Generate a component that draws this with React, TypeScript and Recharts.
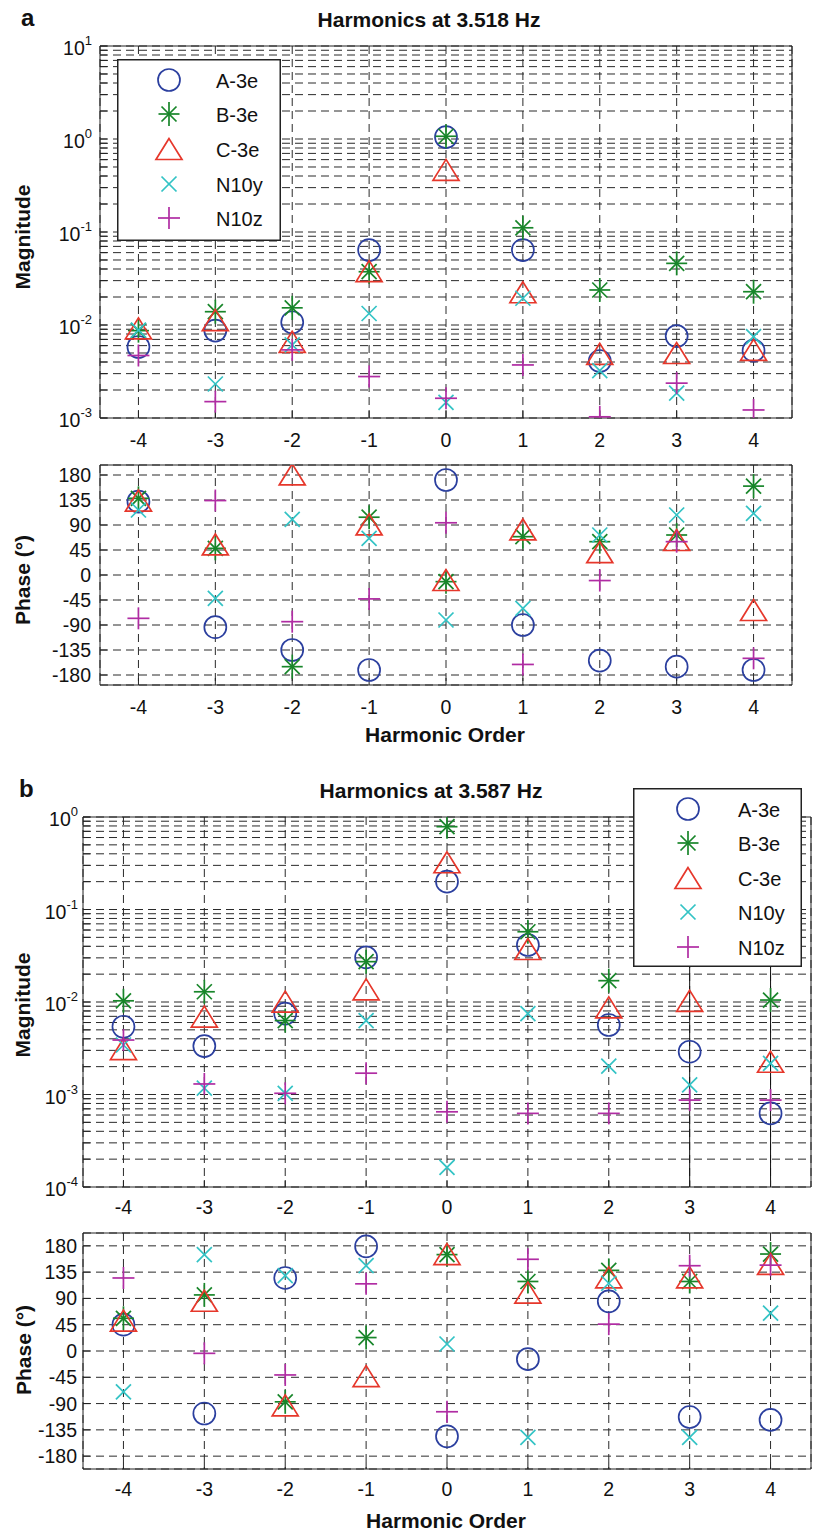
import React from 'react';
import {
  ScatterChart,
  Scatter,
  XAxis,
  YAxis,
  CartesianGrid,
  ReferenceArea,
  ReferenceLine,
  Legend,
} from 'recharts';

const FONT = '"Liberation Sans", Arial, Helvetica, sans-serif';

// ---------- categories / ticks ----------
const harmonicOrders = [-4, -3, -2, -1, 0, 1, 2, 3, 4];
const seriesNames = ['A-3e', 'B-3e', 'C-3e', 'N10y', 'N10z'];
const phaseTicks = [-180, -135, -90, -45, 0, 45, 90, 135, 180];
const magDecadesA = [-3, -2, -1, 0, 1];
const magDecadesB = [-4, -3, -2, -1, 0];

// ---------- panel a: Harmonics at 3.518 Hz ----------
const magA_A3e = [0.0058, 0.0087, 0.0107, 0.064, 1.05, 0.064, 0.0041, 0.0076, 0.0053];
const magA_B3e = [0.0087, 0.0139, 0.0153, 0.0374, 1.07, 0.111, 0.0238, 0.046, 0.0228];
const magA_C3e = [0.0092, 0.0113, 0.0066, 0.038, 0.466, 0.0225, 0.0049, 0.005, 0.0054];
const magA_N10y = [0.0088, 0.00232, 0.0061, 0.0133, 0.00147, 0.0194, 0.00323, 0.00185, 0.0075];
const magA_N10z = [0.0047, 0.0015, 0.0054, 0.00279, 0.00163, 0.00372, 0.00103, 0.00237, 0.00122];

const phA_A3e = [132, -94, -135, -171, 171, -90, -154, -165, -171];
const phA_B3e = [138, 48, -165, 104, -12, 69, 60, 72, 160];
const phA_C3e = [134, 55, 181, 91, -9, 82, 41, 63, -63];
const phA_N10y = [117, -42, 100, 66, -81, -60, 72, 108, 111];
const phA_N10z = [-78, 134, -84, -43, 94, -161, -10, 60, -150];

// ---------- panel b: Harmonics at 3.587 Hz ----------
const magB_A3e = [0.0054, 0.00334, 0.0075, 0.0304, 0.2, 0.0413, 0.00564, 0.0029, 0.000625];
const magB_B3e: (number | null)[] = [0.0103, 0.0129, 0.0063, 0.0273, 0.786, 0.0575, 0.017, null, 0.0105];
const magB_C3e = [0.0031, 0.00694, 0.0101, 0.0137, 0.324, 0.0374, 0.00875, 0.0103, 0.00226];
const magB_N10y = [0.00343, 0.00117, 0.00103, 0.0063, 0.000163, 0.0075, 0.00203, 0.00127, 0.00217];
const magB_N10z = [0.00388, 0.0013, 0.00103, 0.0017, 0.00065, 0.000625, 0.000625, 0.00087, 0.00087];

const phB_A3e = [45, -107, 125, 179, -146, -14, 85, -113, -118];
const phB_B3e = [56, 96, -87, 23, 165, 119, 138, 119, 166];
const phB_C3e = [52, 86, -93, -43, 166, 100, 126, 126, 149];
const phB_N10y = [-70, 165, 129, 146, 12, -148, 116, -148, 65];
const phB_N10z = [125, -4, -41, 115, -104, 157, 46, 146, 147];

// ---------- styles ----------
type Kind = 'circle' | 'star' | 'triangle' | 'x' | 'plus';
const seriesStyle: { kind: Kind; color: string }[] = [
  { kind: 'circle', color: '#2b3f9f' },
  { kind: 'star', color: '#18862a' },
  { kind: 'triangle', color: '#e6372b' },
  { kind: 'x', color: '#33c3c5' },
  { kind: 'plus', color: '#b02ca3' },
];

function Glyph({ kind, cx, cy, color }: { kind: Kind; cx: number; cy: number; color: string }) {
  const sw = 1.7;
  if (cx == null || cy == null || isNaN(cx) || isNaN(cy)) return <g />;
  switch (kind) {
    case 'circle':
      return <circle cx={cx} cy={cy} r={11} fill="none" stroke={color} strokeWidth={sw} />;
    case 'star': {
      const h = 10.5;
      const v = 12;
      const d = 7.5;
      return (
        <g stroke={color} strokeWidth={sw} fill="none">
          <line x1={cx - h} y1={cy} x2={cx + h} y2={cy} />
          <line x1={cx} y1={cy - v} x2={cx} y2={cy + v} />
          <line x1={cx - d} y1={cy - d} x2={cx + d} y2={cy + d} />
          <line x1={cx - d} y1={cy + d} x2={cx + d} y2={cy - d} />
        </g>
      );
    }
    case 'triangle':
      return (
        <polygon
          points={`${cx},${cy - 10.5} ${cx - 13},${cy + 10.5} ${cx + 13},${cy + 10.5}`}
          fill="none"
          stroke={color}
          strokeWidth={sw}
          strokeLinejoin="miter"
        />
      );
    case 'x': {
      const a = 7.5;
      return (
        <g stroke={color} strokeWidth={sw}>
          <line x1={cx - a} y1={cy - a} x2={cx + a} y2={cy + a} />
          <line x1={cx - a} y1={cy + a} x2={cx + a} y2={cy - a} />
        </g>
      );
    }
    case 'plus':
    default: {
      const a = 11;
      return (
        <g stroke={color} strokeWidth={sw}>
          <line x1={cx - a} y1={cy} x2={cx + a} y2={cy} />
          <line x1={cx} y1={cy - a} x2={cx} y2={cy + a} />
        </g>
      );
    }
  }
}

const toPoints = (vals: (number | null)[]) =>
  harmonicOrders
    .map((x, i) => ({ x, y: vals[i] }))
    .filter((p) => p.y !== null && p.y !== undefined);

function buildLogTicks(decades: number[]) {
  const out: number[] = [];
  for (let i = 0; i < decades.length - 1; i++) {
    for (let m = 1; m <= 9; m++) out.push(Number((m * Math.pow(10, decades[i])).toPrecision(3)));
  }
  out.push(Math.pow(10, decades[decades.length - 1]));
  return out;
}

interface LegendCfg {
  left: number;
  top: number;
  width: number;
  height: number;
  markerX: number;
  textX: number;
  rows: number[];
}

interface PanelProps {
  top: number;
  height: number;
  plotTop: number;
  right: number;
  yAxisWidth: number;
  xAxisHeight: number;
  log: boolean;
  domain: [number, number];
  ticks: number[];
  data: (number | null)[][];
  labelGap: number;
  xLabelOffset: number;
  legend?: LegendCfg;
  solidX?: number[];
}

function Panel(p: PanelProps) {
  const yTickRender = (props: any) => {
    const { x, y, payload } = props;
    const v = payload.value;
    if (p.log) {
      const lg = Math.log10(v);
      const e = Math.round(lg);
      if (Math.abs(lg - e) > 1e-6) return <g />;
      return (
        <text
          x={x - p.labelGap}
          y={y + 2}
          textAnchor="end"
          dominantBaseline="central"
          fontFamily={FONT}
          fontSize={19.5}
          fill="#111"
        >
          <tspan>10</tspan>
          <tspan dy={-8} fontSize={13}>
            {e}
          </tspan>
        </text>
      );
    }
    return (
      <text
        x={x - p.labelGap}
        y={y}
        textAnchor="end"
        dominantBaseline="central"
        fontFamily={FONT}
        fontSize={19.5}
        fill="#111"
      >
        {v}
      </text>
    );
  };

  const xTickRender = (props: any) => (
    <text
      x={props.x}
      y={props.y + p.xLabelOffset}
      textAnchor="middle"
      dominantBaseline="central"
      fontFamily={FONT}
      fontSize={19.5}
      fill="#111"
    >
      {props.payload.value}
    </text>
  );

  const L = p.legend;

  return (
    <div style={{ position: 'absolute', left: 0, top: p.top, width: 814, height: p.height }}>
      <ScatterChart
        width={814}
        height={p.height}
        margin={{ top: p.plotTop, right: p.right, bottom: 0, left: 0 }}
      >
        <CartesianGrid stroke="#2a2a2a" strokeDasharray="8 5" strokeWidth={1} />
        <XAxis
          type="number"
          dataKey="x"
          domain={[-4.5, 4.5]}
          ticks={harmonicOrders}
          interval={0}
          height={p.xAxisHeight}
          tickSize={-7}
          tickMargin={7}
          axisLine={false}
          tickLine={{ stroke: '#222' }}
          tick={xTickRender}
          allowDataOverflow
        />
        <XAxis
          xAxisId="top"
          orientation="top"
          mirror
          type="number"
          domain={[-4.5, 4.5]}
          ticks={harmonicOrders}
          interval={0}
          tickSize={7}
          axisLine={false}
          tickLine={{ stroke: '#222' }}
          tick={false}
          allowDataOverflow
        />
        <YAxis
          type="number"
          dataKey="y"
          scale={p.log ? 'log' : 'linear'}
          domain={p.domain}
          ticks={p.ticks}
          interval={0}
          width={p.yAxisWidth}
          tickSize={-7}
          tickMargin={7}
          axisLine={false}
          tickLine={{ stroke: '#222' }}
          tick={yTickRender}
          allowDataOverflow
        />
        <YAxis
          yAxisId="right"
          orientation="right"
          mirror
          type="number"
          scale={p.log ? 'log' : 'linear'}
          domain={p.domain}
          ticks={p.ticks}
          interval={0}
          tickSize={7}
          axisLine={false}
          tickLine={{ stroke: '#222' }}
          tick={false}
          allowDataOverflow
        />
        <ReferenceArea
          x1={-4.5}
          x2={4.5}
          y1={p.domain[0]}
          y2={p.domain[1]}
          fill="none"
          fillOpacity={0}
          stroke="#222"
          strokeWidth={1}
          ifOverflow="visible"
        />
        {(p.solidX || []).map((sx) => (
          <ReferenceLine key={'s' + sx} x={sx} stroke="#111" strokeWidth={1} />
        ))}
        {p.data.map((vals, i) => (
          <Scatter
            key={seriesNames[i]}
            name={seriesNames[i]}
            data={toPoints(vals)}
            isAnimationActive={false}
            shape={(sp: any) => (
              <Glyph kind={seriesStyle[i].kind} cx={sp.cx} cy={sp.cy} color={seriesStyle[i].color} />
            )}
          />
        ))}
        {L && (
          <Legend
            layout="vertical"
            align="center"
            verticalAlign="middle"
            wrapperStyle={{ left: L.left, top: L.top, width: L.width, height: L.height, lineHeight: 0 }}
            content={() => (
              <svg width={L.width} height={L.height} style={{ display: 'block' }}>
                <rect
                  x={0.75}
                  y={0.75}
                  width={L.width - 1.5}
                  height={L.height - 1.5}
                  fill="#fff"
                  stroke="#222"
                  strokeWidth={1.5}
                />
                {seriesStyle.map((s, i) => (
                  <g key={seriesNames[i]}>
                    <Glyph kind={s.kind} cx={L.markerX} cy={L.rows[i]} color={s.color} />
                    <text
                      x={L.textX}
                      y={L.rows[i] + 1}
                      dominantBaseline="central"
                      fontFamily={FONT}
                      fontSize={20}
                      fill="#111"
                    >
                      {seriesNames[i]}
                    </text>
                  </g>
                ))}
              </svg>
            )}
          />
        )}
      </ScatterChart>
    </div>
  );
}

export default function App() {
  const magTicksA = buildLogTicks(magDecadesA);
  const magTicksB = buildLogTicks(magDecadesB);
  const bold = { fontFamily: FONT, fontWeight: 'bold' as const, fill: '#111' };
  return (
    <div style={{ position: 'absolute', left: 0, top: 0, width: 814, height: 1532, background: '#fff' }}>
      <Panel
        top={0}
        height={455}
        plotTop={46}
        right={22}
        yAxisWidth={100}
        xAxisHeight={37}
        log
        domain={[0.001, 10]}
        ticks={magTicksA}
        data={[magA_A3e, magA_B3e, magA_C3e, magA_N10y, magA_N10z]}
        labelGap={8}
        xLabelOffset={22}
        legend={{ left: 117, top: 59, width: 164, height: 182, markerX: 52, textX: 99, rows: [21, 55, 90, 125, 159] }}
      />
      <Panel
        top={455}
        height={265}
        plotTop={10}
        right={22}
        yAxisWidth={100}
        xAxisHeight={35}
        log={false}
        domain={[-198, 198]}
        ticks={phaseTicks}
        data={[phA_A3e, phA_B3e, phA_C3e, phA_N10y, phA_N10z]}
        labelGap={9}
        xLabelOffset={22}
      />
      <Panel
        top={760}
        height={460}
        plotTop={57}
        right={3}
        yAxisWidth={83}
        xAxisHeight={33}
        log
        domain={[0.0001, 1]}
        ticks={magTicksB}
        data={[magB_A3e, magB_B3e, magB_C3e, magB_N10y, magB_N10z]}
        labelGap={5}
        xLabelOffset={20}
        solidX={[3, 4]}
        legend={{ left: 633, top: 28, width: 169, height: 179, markerX: 55, textX: 105, rows: [21, 55, 90, 124, 159] }}
      />
      <Panel
        top={1220}
        height={281}
        plotTop={13}
        right={3}
        yAxisWidth={83}
        xAxisHeight={32}
        log={false}
        domain={[-202, 202]}
        ticks={phaseTicks}
        data={[phB_A3e, phB_B3e, phB_C3e, phB_N10y, phB_N10z]}
        labelGap={6}
        xLabelOffset={20}
      />
      <svg
        width={814}
        height={1532}
        style={{ position: 'absolute', left: 0, top: 0, pointerEvents: 'none' }}
      >
        <text x={21} y={26} fontSize={24} {...bold}>a</text>
        <text x={429} y={27} textAnchor="middle" fontSize={21} {...bold}>Harmonics at 3.518 Hz</text>
        <text transform="translate(30,237) rotate(-90)" textAnchor="middle" fontSize={21} {...bold}>Magnitude</text>
        <text transform="translate(30,580) rotate(-90)" textAnchor="middle" fontSize={21} {...bold}>Phase (°)</text>
        <text x={445} y={742} textAnchor="middle" fontSize={21} {...bold}>Harmonic Order</text>
        <text x={19} y={797} fontSize={24} {...bold}>b</text>
        <text x={431} y={798} textAnchor="middle" fontSize={21} {...bold}>Harmonics at 3.587 Hz</text>
        <text transform="translate(30,1005) rotate(-90)" textAnchor="middle" fontSize={21} {...bold}>Magnitude</text>
        <text transform="translate(31,1350) rotate(-90)" textAnchor="middle" fontSize={21} {...bold}>Phase (°)</text>
        <text x={446} y={1528} textAnchor="middle" fontSize={21} {...bold}>Harmonic Order</text>
      </svg>
    </div>
  );
}
